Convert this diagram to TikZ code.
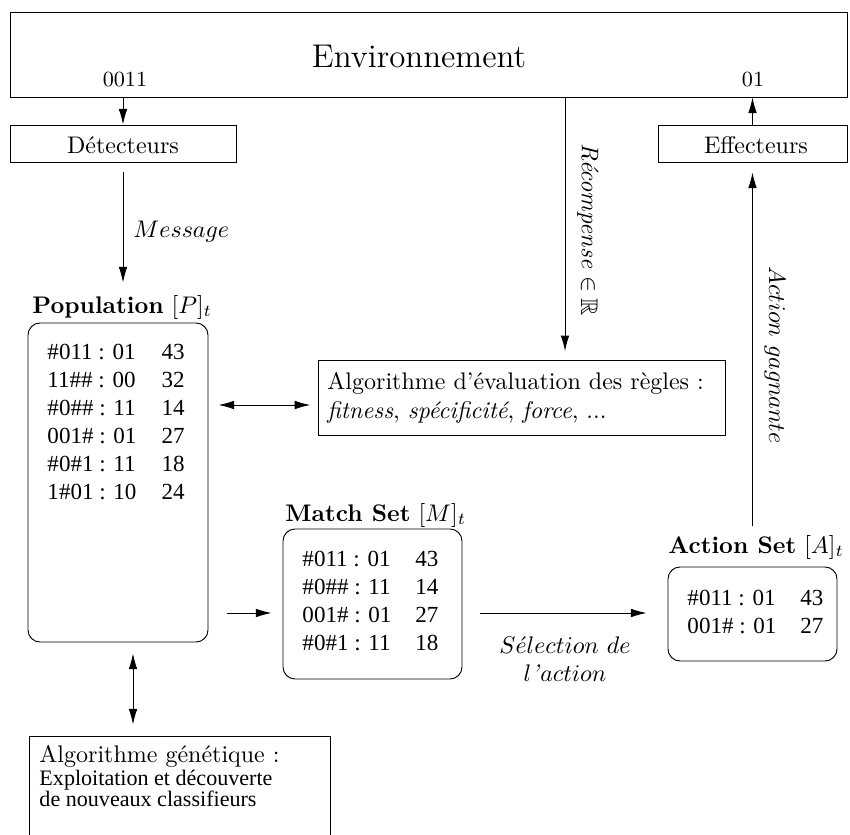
\documentclass[tikz,border=0pt]{standalone}
\usepackage{amssymb}
\usepackage{fontspec}
\newfontfamily\tms{Liberation Serif}
\usetikzlibrary{arrows.meta,fit}
\begin{document}
\begin{tikzpicture}[x=0.41667pt,y=-0.41667pt,
  line width=0.4pt,
  box/.style={draw, inner sep=0pt},
  rbox/.style={draw, inner sep=0pt, rounded corners=5pt},
  txt/.style={inner sep=0pt},
  arr/.style={-{Latex[length=6.5pt,width=3.6pt]}},
  darr/.style={{Latex[length=6.5pt,width=3.6pt]}-{Latex[length=6.5pt,width=3.6pt]}},
  rules/.style={inner sep=0pt, anchor=west, font=\tms\fontsize{9.6}{11.67}\selectfont},
  setlab/.style={inner sep=0pt, anchor=base west}
]
\useasboundingbox (0,0) rectangle (850,835);
\clip (0,0) rectangle (850,835);

% boxes
\node[box, fit={(10,12) (847,97)}] (env) {};
\node[box, fit={(10,125) (236,162)}] (det) {};
\node[box, fit={(658,125) (847,162)}] (eff) {};
\node[rbox, fit={(28,323) (208,642)}] (pop) {};
\node[box, fit={(318,360) (725,435)}] (eval) {};
\node[rbox, fit={(283,529) (462,679)}] (match) {};
\node[rbox, fit={(668,567) (837,661)}] (act) {};
\node[box, fit={(29,736) (330,870)}] (gen) {};

% texts
\node[txt, anchor=base, font=\fontsize{13.7}{16}\selectfont] (envtxt) at (419,68) {Environnement};
\node[txt, anchor=base, font=\small] (in) at (125,87) {0011};
\node[txt, anchor=base, font=\small] (out) at (753,87) {01};
\node[txt, anchor=base] (dettxt) at (123,154) {Détecteurs};
\node[txt, anchor=base] (efftxt) at (756,154) {Effecteurs};

\node[setlab] (poplab) at (32,313) {\textbf{Population} $[P]_t$};
\node[setlab] (matchlab) at (285,521) {\textbf{Match Set} $[M]_t$};
\node[setlab] (actlab) at (668,553) {\textbf{Action Set} $[A]_t$};

\node[rules] (poprules) at (47,424) {\begin{tabular}{@{}l@{\hspace{10.5pt}}r@{}}
\#011 : 01 & 43\\ 11\#\# : 00 & 32\\ \#0\#\# : 11 & 14\\ 001\# : 01 & 27\\ \#0\#1 : 11 & 18\\ 1\#01 : 10 & 24
\end{tabular}};
\node[rules] (matchrules) at (302,603) {\begin{tabular}{@{}l@{\hspace{10pt}}r@{}}
\#011 : 01 & 43\\ \#0\#\# : 11 & 14\\ 001\# : 01 & 27\\ \#0\#1 : 11 & 18
\end{tabular}};
\node[rules] (actrules) at (687,614) {\begin{tabular}{@{}l@{\hspace{10pt}}r@{}}
\#011 : 01 & 43\\ 001\# : 01 & 27
\end{tabular}};

\node[txt, anchor=west, align=left] (evaltxt) at (327,398) {Algorithme d'évaluation des règles :\\
\textit{fitness}, \textit{spécificité}, \textit{force}, ...};

\node[txt, anchor=base west] (gen1) at (39,762) {Algorithme génétique :};
\node[txt, anchor=base west, font=\tms\fontsize{9.2}{11}\selectfont] (gen2) at (39,785) {Exploitation et découverte};
\node[txt, anchor=base west, font=\tms\fontsize{9.2}{11}\selectfont] (gen3) at (39,806) {de nouveaux classifieurs};

\node[txt, anchor=west] (msg) at (133,232) {$Message$};
\node[txt, rotate=-90] (rec) at (588,230) {\textit{Récompense} $\in\mathbb{R}$};
\node[txt, rotate=-90] (gagn) at (775,355) {$Action\ gagnante$};
\node[txt, align=center, font={\fontsize{10}{11.7}\selectfont}] (sel) at (565,659) {$S\acute{e}lection\ de$\\$l$\textit{'}$action$};

% coordinates for connector positions
\coordinate (recx) at (565,0);
\coordinate (gx) at (133,0);
\coordinate (ry) at (0,405);
\coordinate (my) at (0,613);

% connectors
\draw[arr] (env.south -| det.north) -- (det.north);
\draw[arr] (eff.north) -- (eff.north |- env.south);
\draw[arr, shorten <=4.17pt, shorten >=16.7pt] (det.south) -- (det.south |- pop.north);
\draw[arr, shorten >=3.5pt] (env.south -| recx) -- (eval.north -| recx);
\draw[darr, shorten <=4.17pt, shorten >=3pt] (pop.east |- ry) -- (eval.west |- ry);
\draw[arr, shorten <=7.9pt, shorten >=4.6pt] (pop.east |- my) -- (match.west |- my);
\draw[arr, shorten <=7.5pt, shorten >=8.75pt] (match.east |- my) -- (act.west |- my);
\draw[arr, shorten <=16.7pt, shorten >=4.17pt] (act.north -| eff.south) -- (eff.south);
\draw[darr, shorten <=4.6pt, shorten >=4.6pt] (pop.south -| gx) -- (gen.north -| gx);
\end{tikzpicture}
\end{document}
